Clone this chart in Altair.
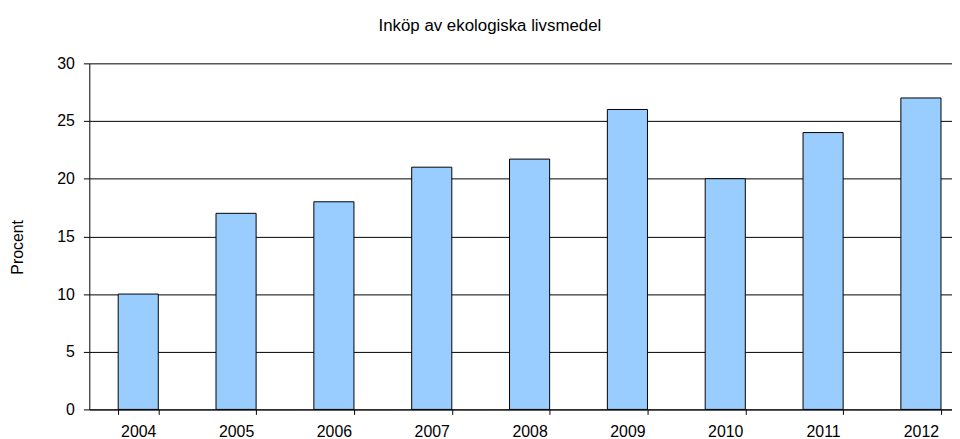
import altair as alt
import pandas as pd

years = ["2004", "2005", "2006", "2007", "2008", "2009", "2010", "2011", "2012"]
values = [10, 17, 18, 21, 21.7, 26, 20, 24, 27]

df = pd.DataFrame({"year": years, "value": values})

FONT = "Liberation Sans"

chart = alt.Chart(df).mark_bar(
    color="#99CCFF", stroke="#000000", strokeWidth=1
).encode(
    x=alt.X("year:N", sort=years, title=None,
            scale=alt.Scale(paddingInner=0.59, paddingOuter=0.295, range=[0, 888]),
            axis=alt.Axis(labelAngle=0, tickBand="extent", tickSize=5,
                          labelPadding=9, labelFontSize=16, labelFont=FONT,
                          labelColor="#000000", domainColor="#000000",
                          tickColor="#000000", grid=False)),
    y=alt.Y("value:Q", title="Procent",
            scale=alt.Scale(domain=[0, 30], nice=False),
            axis=alt.Axis(values=[0, 5, 10, 15, 20, 25, 30], tickSize=6,
                          labelPadding=9, labelFontSize=16, labelFont=FONT,
                          labelColor="#000000", domainColor="#000000",
                          tickColor="#000000", gridColor="#000000",
                          gridOpacity=1, titleFont=FONT, titleFontSize=16,
                          titleFontWeight="normal", titleColor="#000000",
                          titleX=-72, titleY=185, titleAngle=270,
                          titleAlign="center", titleBaseline="middle")),
).properties(
    width=870,
    height=349,
    title=alt.TitleParams("Inköp av ekologiska livsmedel", font=FONT,
                          fontSize=17, fontWeight="normal", color="#000000",
                          offset=21, anchor="middle", dx=-31),
    autosize=alt.AutoSizeParams(type="none"),
    padding={"left": 82, "top": 54, "right": 0, "bottom": 28},
).configure_view(stroke=None)

chart.save("out.html", embed_options={"renderer": "svg", "actions": False})
